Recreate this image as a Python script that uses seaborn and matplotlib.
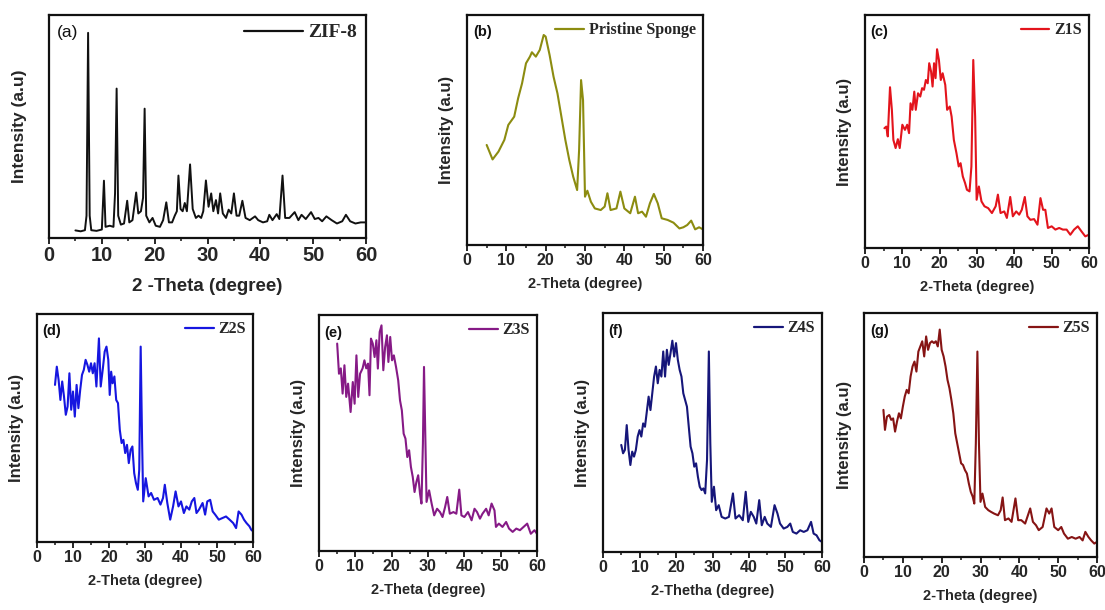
"""
XRD patterns of ZIF-8, pristine sponge and ZIF-8 coated sponges (Z1S-Z5S).
Seven panels, values read off the reference figure.
"""

import matplotlib
matplotlib.use('Agg')
import matplotlib.pyplot as plt
from matplotlib.ticker import MultipleLocator
import seaborn as sns

# -------------------------------------------------------
# Data (2-theta in degree, intensity in a.u., 0-100 of panel height)
# -------------------------------------------------------
zif8_x = [5.0, 6.0, 6.8, 7.1, 7.4, 7.7, 8.0, 9.0, 10.0, 10.4, 10.7, 11.5, 12.2, 12.5, 12.8,
          13.1, 13.6, 14.2, 14.8, 15.2, 15.8, 16.5, 16.9, 17.4, 17.8, 18.1, 18.4, 19.0, 19.6,
          20.2, 21.0, 21.6, 22.2, 22.7, 23.3, 23.8, 24.2, 24.5, 24.9, 25.3, 25.7, 26.1, 26.7,
          27.2, 27.8, 28.3, 28.8, 29.2, 29.7, 30.2, 30.7, 31.1, 31.6, 32.0, 32.4, 32.9, 33.5,
          34.0, 34.5, 35.0, 35.5, 36.0, 36.6, 37.2, 38.0, 39.0, 39.6, 40.5, 41.3, 41.7, 42.3,
          43.1, 43.6, 44.2, 44.7, 45.5, 46.5, 47.2, 47.8, 48.6, 49.6, 50.3, 51.0, 51.7, 52.5,
          53.5, 54.5, 55.5, 56.2, 57.0, 58.0, 59.0, 60.0]
zif8_y = [3.4, 3.0, 3.5, 10, 92, 10, 3.5, 3.2, 3.8, 25.7, 5, 5.5, 5, 20, 67,
          10, 6, 6.5, 16.7, 7, 8, 20.4, 11, 12, 18, 58, 10, 7, 9,
          5.5, 5, 8, 16, 7, 7, 10, 12, 28, 13, 12, 15.7, 12, 33,
          13, 9, 10, 9, 12, 25.8, 14, 20, 12, 17, 11, 20, 11, 9,
          12.7, 11, 20, 10, 10, 16.7, 9, 8, 9.7, 8, 7, 7.5, 10.4, 8,
          10.7, 8.5, 28, 9, 9, 11.6, 8, 10.4, 8.5, 11.6, 8.5, 9, 7.5, 9.7,
          8, 6.5, 7.5, 10.4, 7.5, 6.5, 7, 7]

sponge_x = [5, 6.5, 8, 9.5, 10.5, 12, 13, 14, 15, 16, 16.5, 17.5, 18.5, 19.5, 20, 21, 22,
            23, 24, 25, 26, 27, 28, 28.5, 29.0, 29.5, 30, 30.6, 31.5, 32.5, 34, 35, 35.7,
            36.5, 38, 39, 40, 41.5, 42.7, 43.5, 44.5, 45.5, 46.5, 47.5, 48.5, 49.5, 51,
            52.5, 54, 55, 56, 57, 58, 59, 60]
sponge_y = [43.5, 37.2, 40.6, 45.7, 52.2, 55.8, 63.8, 70.3, 79, 81.9, 83.8, 81.9, 84.8, 91.3,
            90.6, 82.6, 73.2, 65.9, 55.8, 45.7, 37, 29.7, 23.9, 41.3, 71.7, 63, 21, 23.6,
            18.8, 15.9, 15.2, 16.7, 22.5, 15.2, 15.9, 23.2, 15.9, 13.8, 21, 13.8, 14.5,
            12.3, 18.1, 22.2, 18.1, 11.6, 10.9, 9.7, 7.2, 7.7, 8.7, 10.6, 6.8, 7.7, 6.8]

z1s_x = [5.2, 5.7, 6.1, 6.7, 7.2, 7.6, 8.2, 8.8, 9.3, 10, 10.7, 11.3, 11.8, 12.2, 12.7, 13.2,
         13.6, 14.2, 14.8, 15.3, 15.8, 16.3, 16.8, 17.2, 17.7, 18.1, 18.5, 18.9, 19.3, 19.8,
         20.3, 20.8, 21.5, 22, 22.7, 23.2, 23.8, 24.5, 25.1, 25.6, 26.2, 26.8, 27.3, 28, 28.5,
         29, 29.5, 29.9, 30.5, 31.2, 32, 33, 34, 35, 35.6, 36.3, 37.3, 38, 38.9, 39.6, 40.5,
         41.3, 42, 42.8, 43.5, 44.3, 45.3, 46.2, 47, 47.7, 48.3, 49, 50, 51, 52, 53, 54, 55,
         56, 57, 58, 59, 60]
z1s_y = [51.4, 52.1, 47.9, 69, 59.3, 46.4, 42.9, 46.7, 42.9, 52.9, 50.7, 52.9, 49.3, 62.1,
         59.3, 67.1, 59.3, 66.4, 65, 68.6, 67.9, 72.1, 70.7, 79.3, 75.7, 69.3, 79.3, 72.9,
         85.3, 80.7, 72.1, 75, 70, 59.3, 60.7, 56.4, 46.4, 40.7, 35, 36.4, 30.7, 27.9, 25,
         24.3, 35, 80.7, 56.4, 20.7, 26.4, 20, 17.9, 17.1, 15, 17.9, 22.9, 15, 15.7, 12.9,
         21.9, 13.6, 15.7, 14.3, 16.4, 21.9, 13.6, 12.1, 12.4, 10, 21.4, 16.4, 16.4, 8.6,
         9.3, 7.9, 8.6, 7.9, 7.9, 5.7, 7.9, 9.3, 7.1, 5, 5.7]

z2s_x = [5, 5.5, 6, 6.5, 7, 7.5, 8, 8.5, 9, 9.5, 10, 10.5, 11, 11.5, 12, 12.5, 13, 13.5, 14,
         14.5, 15, 15.5, 16, 16.5, 17.2, 17.7, 18.3, 18.8, 19.3, 19.8, 20.2, 20.6, 21, 21.5,
         22, 22.5, 23, 23.5, 24, 24.5, 25, 25.5, 26, 26.5, 27, 27.5, 28, 28.4, 28.8, 29.2,
         29.5, 30.2, 31, 31.7, 32.5, 33.5, 34.3, 35, 35.5, 36.2, 37, 37.8, 38.5, 39.3, 40,
         40.8, 41.5, 42.3, 43, 43.7, 44.3, 45, 46, 46.7, 47.3, 48.1, 48.8, 49.5, 50.5, 51.5,
         52.5, 53.5, 54.5, 55.3, 56, 56.8, 57.5, 58.2, 59, 59.5, 60]
z2s_y = [68.9, 76.9, 71.1, 62.3, 70.4, 63.8, 55.8, 59.4, 74, 58, 66, 55, 68.9, 58.7, 66.7,
         73.3, 75.5, 79.9, 77.7, 74.7, 78.4, 74, 78.4, 68.2, 89.3, 68.2, 76.2, 83.5, 85.7,
         79.9, 64.5, 74.7, 69.6, 72.6, 62.3, 60.9, 49.2, 43.4, 44.8, 39, 42.6, 34.6, 40.4,
         41.9, 30.2, 25.8, 22.9, 31.7, 85.7, 43.4, 17.8, 28, 20, 21.5, 18.5, 19.3, 16.4,
         19.3, 25.1, 17.1, 9.8, 15.6, 22.2, 15.6, 17.8, 12.7, 15.6, 14.2, 17.8, 19.3, 12.7,
         14.2, 17.1, 12, 17.8, 18.5, 13.4, 12, 9.8, 10.5, 11.2, 9.8, 8.3, 6.1, 13.4, 12,
         9.8, 8.3, 6.9, 5.4, 4.7]

z3s_x = [5, 5.5, 6, 6.5, 7, 7.5, 8, 8.7, 9.3, 9.8, 10.3, 10.8, 11.3, 12, 12.5, 13, 13.5,
         13.9, 14.3, 14.8, 15.3, 15.8, 16.2, 16.7, 17.2, 17.7, 18.2, 18.7, 19.1, 19.6, 20.1,
         20.6, 21.2, 21.8, 22.3, 22.8, 23.3, 23.8, 24.3, 24.8, 25.3, 25.8, 26.3, 26.8, 27.3,
         27.8, 28.2, 28.6, 28.9, 29.3, 29.6, 30.3, 31, 31.7, 32.5, 33.3, 34, 34.7, 35.3, 36,
         37, 37.8, 38.6, 39.2, 40, 41, 42, 42.8, 43.5, 44.3, 45, 46, 46.7, 47.5, 48.3, 48.7,
         49.5, 50.5, 51.5, 52.3, 53.3, 54.3, 55.3, 56.3, 57.3, 58.3, 59.3, 60]
z3s_y = [87.9, 75.1, 77.4, 66.7, 78.7, 65.3, 70.9, 58.9, 71.6, 62.4, 82.9, 65.3, 75.1, 77.4,
         80.8, 77.4, 79.4, 66, 90, 87.9, 82.2, 89.3, 77.3, 92.8, 95.6, 76.6, 86.4, 91.4,
         80.1, 90.7, 80.8, 82.9, 78, 72.3, 63.8, 59.6, 49.7, 47.6, 39.8, 42.7, 35.6, 31.4,
         25, 29.2, 32.1, 24.3, 20.1, 45.5, 78, 45.5, 20.8, 25.7, 20.1, 15.1, 17.9, 16.5,
         14.4, 18.6, 22.9, 15.8, 16.5, 15.8, 26, 15.1, 14.4, 16.5, 13, 17.9, 16.5, 13.7,
         15.8, 17.9, 15.1, 20.1, 17.2, 10.2, 11.6, 10.2, 12.3, 9.5, 8.1, 9.5, 8.8, 10.2,
         11.6, 7.3, 8.8, 7.3]

z4s_x = [5, 5.5, 6, 6.5, 7, 7.5, 8, 8.5, 9, 9.5, 10, 10.5, 11, 11.5, 12, 12.5, 13, 13.5, 14,
         14.5, 15, 15.5, 16, 16.5, 17, 17.5, 18, 18.5, 19, 19.5, 20, 20.5, 21, 21.5, 22, 22.5,
         23, 23.5, 24, 24.5, 25, 25.5, 26, 26.5, 27, 27.5, 28, 28.5, 29, 29.4, 29.8, 30.4, 31,
         31.7, 32.5, 33.5, 34.5, 35.6, 36.3, 37.3, 38.3, 39.1, 39.8, 40.5, 41.3, 42, 42.8,
         43.5, 44.3, 45, 46, 47, 47.8, 48.5, 49.5, 50.5, 51.3, 52, 53, 54, 55, 56, 57, 57.7,
         58.5, 59.3, 60]
z4s_y = [44.8, 41.3, 42.7, 53.1, 42.7, 36.4, 42, 39.9, 42.7, 48.3, 51, 48.3, 53.8, 52.4,
         58.7, 65, 59.4, 66.4, 73.4, 77.6, 70.6, 76.2, 73.4, 83.9, 73.4, 84.6, 78.3, 83.2,
         88.4, 81.8, 87.4, 80.4, 76.2, 73.4, 66.4, 63.6, 60.8, 52.4, 44.1, 41.3, 35.7, 37.1,
         31.5, 27.3, 25.9, 26.6, 24.5, 38.5, 83.9, 45.5, 21, 27.3, 17.5, 19.6, 14.7, 14,
         14.7, 24.5, 14, 15.4, 13.3, 25.2, 12.6, 16.8, 14.7, 11.9, 21.7, 11.2, 14.7, 11.9,
         10.5, 19.6, 16.1, 11.9, 9.8, 10.5, 11.9, 8.4, 7.7, 9.1, 8.4, 9.1, 12.6, 7.7, 7,
         4.9, 4.2]

z5s_x = [5, 5.4, 5.9, 6.5, 7, 7.5, 8, 8.5, 9, 9.5, 10, 10.5, 11, 11.5, 12, 12.5, 13, 13.5,
         14, 14.5, 15, 15.5, 16, 16.5, 17, 17.5, 18, 18.5, 19, 19.5, 20, 20.5, 21, 21.5, 22,
         22.5, 23, 23.5, 24, 24.5, 25, 25.5, 26, 26.5, 27, 27.5, 28, 28.4, 28.8, 29.2, 29.6,
         30, 30.5, 31.2, 32, 32.7, 33.5, 34.5, 35.2, 35.7, 36.3, 37.2, 38, 39, 39.7, 40.5,
         41.5, 42.8, 43.5, 44.3, 45, 46, 47, 47.7, 48.3, 49, 50, 50.8, 51.5, 52.5, 53.5, 54.5,
         55.5, 56.3, 57, 57.8, 58.5, 59.3, 60]
z5s_y = [60.3, 52.1, 57.5, 58.2, 56.2, 56.8, 51.4, 55.5, 58.9, 56.8, 61.6, 65.8, 68.5, 67.1,
         74, 78.1, 80.1, 76, 84.2, 86.3, 88.4, 82.2, 90.4, 84.9, 87.7, 88.4, 87.7, 88.4,
         86.3, 93.2, 84.9, 82.2, 78.1, 72.6, 69.2, 64.4, 58.9, 50.7, 46.6, 42.5, 38.4, 37.7,
         35.6, 34.2, 30.1, 26.7, 24.7, 21.9, 46.6, 84.2, 46.6, 22.6, 26, 20.5, 19.2, 18.5,
         17.8, 17.1, 19.2, 24.4, 15.1, 15.8, 14.4, 24, 15.1, 15.1, 13.7, 19.9, 14.4, 13,
         11, 12.3, 19.9, 17.8, 19.9, 12.3, 11, 12.3, 9.6, 7.5, 8.2, 7.5, 8.2, 6.8, 10.3,
         8.2, 6.8, 5.5, 6.2]

sample_names = ["ZIF-8", "Pristine Sponge", "Z1S", "Z2S", "Z3S", "Z4S", "Z5S"]
panel_tags = ["(a)", "(b)", "(c)", "(d)", "(e)", "(f)", "(g)"]
x_labels = ["2 -Theta (degree)", "2-Theta (degree)", "2-Theta (degree)", "2-Theta (degree)",
            "2-Theta (degree)", "2-Thetha (degree)", "2-Theta (degree)"]
x_ticks = [0, 10, 20, 30, 40, 50, 60]

# -------------------------------------------------------
# Styling
# -------------------------------------------------------
sns.set_style("ticks")
plt.rcParams['font.family'] = ['Liberation Sans', 'DejaVu Sans']
plt.rcParams['axes.linewidth'] = 1.6

colors = ['#111111', '#8c8c10', '#e3141c', '#1616e0', '#861a86', '#16167a', '#861414']

# axes boxes in pixels: left, top, right, bottom (figure is 1105 x 610)
boxes = [(49, 15, 366, 238), (467, 15, 703, 245), (865, 15, 1089, 248),
         (37, 314, 253, 542), (319, 315, 537, 551), (603, 313, 822, 552),
         (864, 313, 1097, 557)]

W, H = 1105, 610
fig = plt.figure(figsize=(W / 100, H / 100), dpi=100)

series = [(zif8_x, zif8_y), (sponge_x, sponge_y), (z1s_x, z1s_y), (z2s_x, z2s_y),
          (z3s_x, z3s_y), (z4s_x, z4s_y), (z5s_x, z5s_y)]

for i, ((xs, ys), box) in enumerate(zip(series, boxes)):
    l, t, r, b = box
    ax = fig.add_axes([l / W, 1 - b / H, (r - l) / W, (b - t) / H])
    big = (i == 0)

    sns.lineplot(x=xs, y=ys, ax=ax, color=colors[i], linewidth=1.4 if big else 1.5,
                 label=sample_names[i], sort=False)

    ax.set_xlim(0, 60)
    ax.set_ylim(0, 100)
    ax.set_xticks(x_ticks)
    ax.xaxis.set_minor_locator(MultipleLocator(5))
    ax.set_yticks([])
    ax.tick_params(axis='x', which='major', direction='out', length=4, width=1.4,
                   labelsize=14.5 if big else 11.5, pad=2)
    ax.tick_params(axis='x', which='minor', direction='out', length=2.5, width=1.2)
    for lab in ax.get_xticklabels():
        lab.set_fontweight('bold')
    for sp in ax.spines.values():
        sp.set_visible(True)
        sp.set_color('#111111')

    ax.set_xlabel(x_labels[i], fontsize=13.5 if big else 10.5, fontweight='bold',
                  labelpad=9 if big else 6)
    ax.set_ylabel("Intensity (a.u)", fontsize=12.5 if big else 12, fontweight='bold',
                  labelpad=16 if big else 9)

    ax.text(0.025, 0.955, panel_tags[i], transform=ax.transAxes,
            ha='left', va='top', fontsize=12.5 if big else 10.5,
            fontweight='normal' if big else 'bold', color='#111111')

    leg = ax.legend(loc='upper right', frameon=False, handlelength=3.0 if big else 1.8,
                    handletextpad=0.3, borderaxespad=0.25, borderpad=0.2,
                    prop={'family': 'Liberation Serif', 'weight': 'bold',
                          'size': 14 if big else 11.5})
    for line in leg.get_lines():
        line.set_linewidth(1.6)

fig.savefig("out.png", dpi=100)
plt.close(fig)
